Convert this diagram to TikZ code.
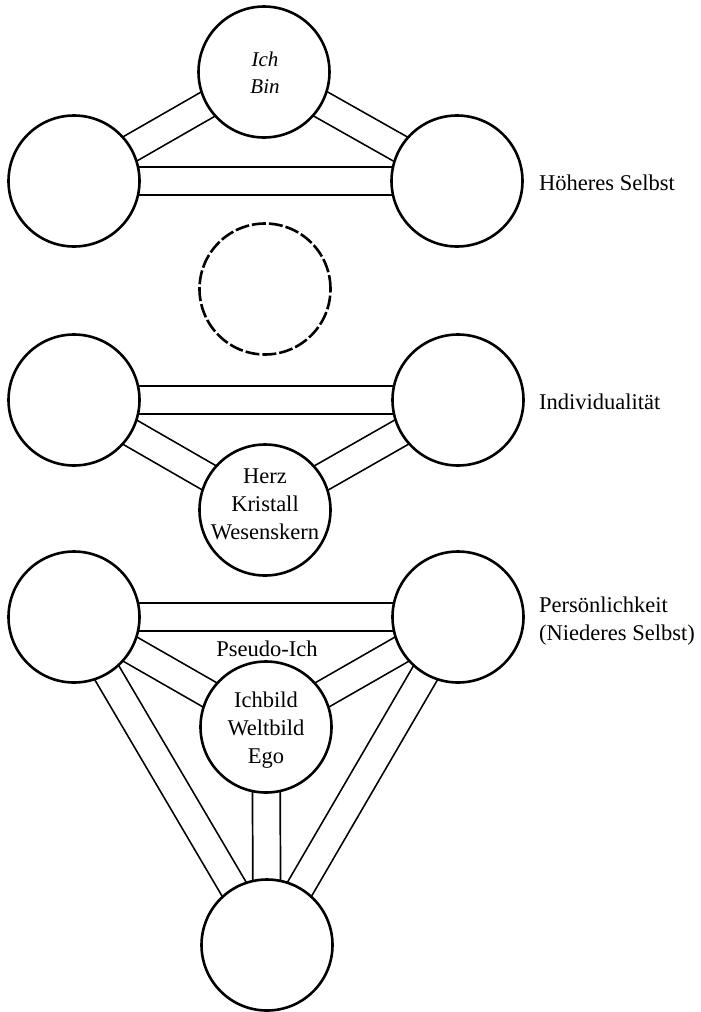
\documentclass[tikz,border=0pt]{standalone}
\usepackage{fontspec}
\setmainfont{Liberation Serif}
\usetikzlibrary{backgrounds}
\tikzset{
  ring/.style={draw, circle, fill=white, line width=2.6pt, minimum size=131pt, inner sep=0pt},
  bar/.style={line width=1.7pt, double=white, double distance=26pt},
  word/.style={font=\fontsize{22.5}{28}\selectfont, align=center, inner sep=0pt},
  side/.style={word, anchor=west, align=left}
}
\begin{document}
\begin{tikzpicture}[x=1pt,y=-1pt]
\useasboundingbox (0,0) rectangle (701,1012);
% hoeheres selbst
\node[ring] (ich) at (264,72) {};
\node[ring] (hl) at (74,181) {};
\node[ring] (hr) at (457,181) {};
\node[word, font=\fontsize{21}{27}\selectfont\itshape] (ichtxt) at (265,73) {Ich\\Bin};
\node[side] (hoeher) at (539,183) {Höheres Selbst};
% mitte
\node[ring, dash pattern=on 14pt off 3pt] (mid) at (265,289) {};
% individualitaet
\node[ring] (il) at (74,400) {};
\node[ring] (ir) at (458,400) {};
\node[ring] (herz) at (265,510) {};
\node[word] (herztxt) at (265,504) {Herz\\Kristall\\Wesenskern};
\node[side] (indiv) at (539,402) {Individualität};
% persoenlichkeit
\node[ring] (pl) at (74,617) {};
\node[ring] (pr) at (458,617) {};
\node[ring] (ego) at (266,727) {};
\node[ring] (fuss) at (267,945) {};
\node[word] (egotxt) at (266,730) {Ichbild\\Weltbild\\Ego};
\node[word] (pseudo) at (267,649) {Pseudo-Ich};
\node[side] (pers) at (539,621) {Persönlichkeit\\(Niederes Selbst)};
% balken
\begin{scope}[on background layer]
\draw[bar] (hl.center) -- (ich.center);
\draw[bar] (hr.center) -- (ich.center);
\draw[bar] (hl.center) -- (hr.center);
\draw[bar] (il.center) -- (ir.center);
\draw[bar] (il.center) -- (herz.center);
\draw[bar] (ir.center) -- (herz.center);
\draw[bar] (pl.center) -- (pr.center);
\draw[bar] (pl.center) -- (ego.center);
\draw[bar] (pr.center) -- (ego.center);
\draw[bar] (ego.center) -- (fuss.center);
\draw[bar] (pl.center) -- (fuss.center);
\draw[bar] (pr.center) -- (fuss.center);
\end{scope}
\end{tikzpicture}
\end{document}
